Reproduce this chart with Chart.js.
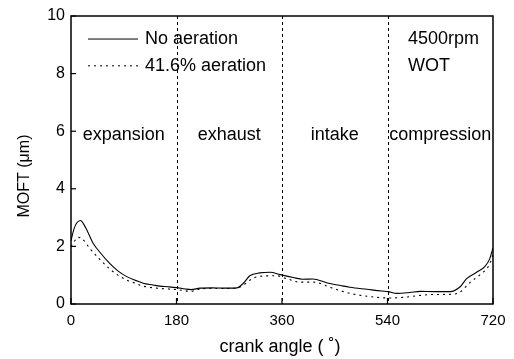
<!DOCTYPE html>
<html>
<head>
<meta charset="utf-8">
<script src="https://cdn.jsdelivr.net/npm/chart.js@4"></script>
<style>
  html, body { margin: 0; padding: 0; background: #fff; }
  #wrap { width: 514px; height: 359px; }
</style>
</head>
<body>
<div id="wrap"><canvas id="moftChart" width="514" height="359"></canvas></div>
<script>
// crank angle samples (deg) and MOFT (um)
const angleNoAer = [0, 5, 10, 16, 25, 38, 50, 66, 80, 95, 110, 123, 140, 152, 165, 180, 195, 205, 220, 240, 260, 283, 294, 305, 322, 340, 357, 379, 395, 413, 436, 460, 476, 505, 530, 541, 556, 578, 596, 620, 647, 664, 675, 692, 706, 714, 720];
const moftNoAer = [2.2, 2.6, 2.82, 2.9, 2.65, 2.1, 1.78, 1.41, 1.15, 0.95, 0.82, 0.72, 0.66, 0.62, 0.6, 0.57, 0.52, 0.5, 0.55, 0.56, 0.55, 0.56, 0.72, 0.98, 1.08, 1.1, 1.02, 0.92, 0.86, 0.87, 0.74, 0.64, 0.58, 0.51, 0.45, 0.43, 0.37, 0.4, 0.44, 0.43, 0.43, 0.6, 0.88, 1.1, 1.3, 1.55, 1.95];

const angleAer = [0, 5, 12, 20, 32, 50, 72, 95, 110, 123, 152, 180, 195, 203, 215, 231, 260, 283, 294, 311, 328, 351, 368, 391, 413, 446, 476, 505, 541, 561, 596, 618, 652, 664, 681, 698, 712, 718, 720];
const moftAer = [2.0, 2.15, 2.32, 2.25, 1.93, 1.53, 1.12, 0.83, 0.72, 0.62, 0.54, 0.5, 0.46, 0.43, 0.5, 0.54, 0.54, 0.55, 0.66, 0.9, 0.97, 0.98, 0.88, 0.76, 0.76, 0.55, 0.37, 0.27, 0.21, 0.22, 0.3, 0.33, 0.34, 0.42, 0.75, 1.02, 1.3, 1.6, 1.76];

const seriesNames = ['No aeration', '41.6% aeration'];
const strokeBounds = [180, 360, 540];
const strokeNames = ['expansion', 'exhaust', 'intake', 'compression'];
const xTicks = [0, 180, 360, 540, 720];
const yTicks = [0, 2, 4, 6, 8, 10];

const FONT = '"Liberation Sans", Arial, sans-serif';

function toPoints(xs, ys) {
    return xs.map((x, i) => ({ x: x, y: ys[i] }));
}

// frame, inward ticks, stroke dividers and all the text inside the plot
const decorPlugin = {
    id: 'decor',
    beforeDatasetsDraw(chart) {
        const { ctx, chartArea: a, scales: { x, y } } = chart;
        ctx.save();
        ctx.strokeStyle = '#000';
        ctx.lineWidth = 1;
        ctx.setLineDash([3, 3]);
        strokeBounds.forEach(v => {
            const px = Math.round(x.getPixelForValue(v)) + 0.5;
            ctx.beginPath();
            ctx.moveTo(px, a.top);
            ctx.lineTo(px, a.bottom);
            ctx.stroke();
        });
        ctx.restore();
    },
    afterDraw(chart) {
        const { ctx, chartArea: a, scales: { x, y } } = chart;
        ctx.save();
        ctx.strokeStyle = '#000';
        ctx.lineWidth = 1.5;
        ctx.strokeRect(a.left, a.top, a.right - a.left, a.bottom - a.top);

        // ticks pointing into the plot
        ctx.lineWidth = 1.2;
        yTicks.forEach(v => {
            const py = y.getPixelForValue(v);
            ctx.beginPath();
            ctx.moveTo(a.left, py);
            ctx.lineTo(a.left + 5, py);
            ctx.stroke();
        });
        xTicks.forEach(v => {
            const px = x.getPixelForValue(v);
            ctx.beginPath();
            ctx.moveTo(px, a.bottom);
            ctx.lineTo(px, a.bottom - 6);
            ctx.stroke();
        });

        ctx.fillStyle = '#000';
        ctx.textBaseline = 'middle';

        // stroke names centred in each 180 deg window
        ctx.font = '18px ' + FONT;
        ctx.textAlign = 'center';
        const bounds = [0].concat(strokeBounds, [720]);
        strokeNames.forEach((name, i) => {
            const cx = x.getPixelForValue((bounds[i] + bounds[i + 1]) / 2);
            ctx.fillText(name, cx, y.getPixelForValue(5.85));
        });

        // legend
        const legY = [y.getPixelForValue(9.2), y.getPixelForValue(8.27)];
        const legX = a.left + 17;
        ctx.lineWidth = 1;
        ctx.beginPath();
        ctx.setLineDash([]);
        ctx.moveTo(legX, legY[0]);
        ctx.lineTo(legX + 50, legY[0]);
        ctx.stroke();
        ctx.beginPath();
        ctx.setLineDash([2, 4]);
        ctx.moveTo(legX, legY[1]);
        ctx.lineTo(legX + 50, legY[1]);
        ctx.stroke();
        ctx.setLineDash([]);
        ctx.textAlign = 'left';
        ctx.fillText(seriesNames[0], legX + 57, legY[0]);
        ctx.fillText(seriesNames[1], legX + 57, legY[1]);

        // operating point
        ctx.fillText('4500rpm', x.getPixelForValue(575), legY[0]);
        ctx.fillText('WOT', x.getPixelForValue(575), legY[1]);

        // axis titles
        ctx.textAlign = 'center';
        ctx.font = '18px ' + FONT;
        ctx.fillText('crank angle ( \u02DA)', (a.left + a.right) / 2 - 2, 347);
        ctx.save();
        ctx.translate(25, (a.top + a.bottom) / 2 + 16);
        ctx.rotate(-Math.PI / 2);
        ctx.font = '16px ' + FONT;
        ctx.fillText('MOFT (\u03BCm)', 0, 0);
        ctx.restore();

        ctx.restore();
    }
};

new Chart(document.getElementById('moftChart'), {
    type: 'line',
    data: {
        datasets: [
            {
                label: seriesNames[0],
                data: toPoints(angleNoAer, moftNoAer),
                borderColor: '#000',
                borderWidth: 1.1,
                pointRadius: 0,
                cubicInterpolationMode: 'monotone',
                fill: false
            },
            {
                label: seriesNames[1],
                data: toPoints(angleAer, moftAer),
                borderColor: '#000',
                borderWidth: 1.1,
                borderDash: [2, 4],
                pointRadius: 0,
                cubicInterpolationMode: 'monotone',
                fill: false
            }
        ]
    },
    options: {
        responsive: false,
        animation: false,
        devicePixelRatio: 1,
        layout: { padding: { top: 16, right: 21, left: 0, bottom: 0 } },
        plugins: {
            legend: { display: false },
            tooltip: { enabled: false }
        },
        scales: {
            x: {
                type: 'linear',
                min: 0,
                max: 720,
                afterFit: s => { s.height = 55; },
                afterBuildTicks: s => { s.ticks = xTicks.map(v => ({ value: v })); },
                grid: { display: false, drawTicks: false },
                border: { display: false },
                ticks: {
                    color: '#000',
                    padding: 8,
                    maxRotation: 0,
                    font: { family: FONT, size: 15 }
                }
            },
            y: {
                min: 0,
                max: 10,
                afterFit: s => { s.width = 71; },
                afterBuildTicks: s => { s.ticks = yTicks.map(v => ({ value: v })); },
                grid: { display: false, drawTicks: false },
                border: { display: false },
                ticks: {
                    color: '#000',
                    padding: 6,
                    font: { family: FONT, size: 16 }
                }
            }
        }
    },
    plugins: [decorPlugin]
});
</script>
</body>
</html>
